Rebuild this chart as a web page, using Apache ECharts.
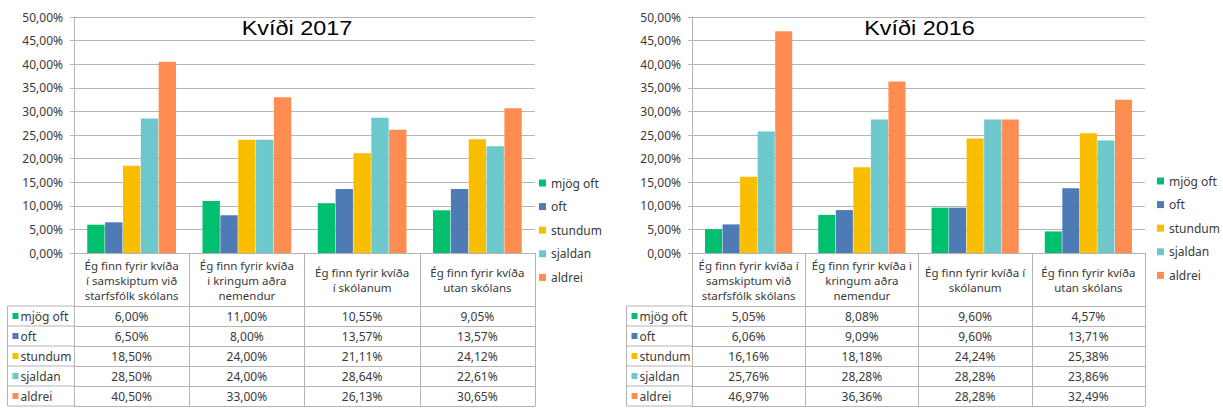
<!DOCTYPE html>
<html>
<head>
<meta charset="utf-8">
<script src="https://cdn.jsdelivr.net/npm/echarts@6/dist/echarts.min.js"></script>
<style>
html,body{margin:0;padding:0;background:#fff;}
#c{width:1223px;height:408px;}
</style>
</head>
<body>
<div id="c"></div>
<script>
// ---------- data ----------
const seriesNames = ['mjög oft', 'oft', 'stundum', 'sjaldan', 'aldrei'];
const seriesColors = ['#00C070', '#4E7AB5', '#F9BE00', '#6DC8CC', '#FF8C50'];

const categories2017 = [
  'Ég finn fyrir kvíða\ní samskiptum við\nstarfsfólk skólans',
  'Ég finn fyrir kvíða\ni kringum aðra\nnemendur',
  'Ég finn fyrir kvíða\ní skólanum',
  'Ég finn fyrir kvíða\nutan skólans'
];
const categories2016 = [
  'Ég finn fyrir kvíða í\nsamskiptum við\nstarfsfólk skólans',
  'Ég finn fyrir kvíða i\nkringum aðra\nnemendur',
  'Ég finn fyrir kvíða í\nskólanum',
  'Ég finn fyrir kvíða\nutan skólans'
];

const mjogOft2017 = [6.00, 11.00, 10.55, 9.05];
const oft2017     = [6.50, 8.00, 13.57, 13.57];
const stundum2017 = [18.50, 24.00, 21.11, 24.12];
const sjaldan2017 = [28.50, 24.00, 28.64, 22.61];
const aldrei2017  = [40.50, 33.00, 26.13, 30.65];

const mjogOft2016 = [5.05, 8.08, 9.60, 4.57];
const oft2016     = [6.06, 9.09, 9.60, 13.71];
const stundum2016 = [16.16, 18.18, 24.24, 25.38];
const sjaldan2016 = [25.76, 28.28, 28.28, 23.86];
const aldrei2016  = [46.97, 36.36, 28.28, 32.49];

const yMin = 0, yMax = 50, yStep = 5; // tick labels 0,00% ... 50,00%
const titles = ['Kvíði 2017', 'Kvíði 2016'];

// ---------- layout / style ----------
const FONT = '"Noto Sans", sans-serif';
const TXT = '#3a3a3a';
const LINE_C = '#B4B4B4';
const GRID_TOP = 17, GRID_H = 236, HEADER_H = 53, ROW_H = 20;

const rows2017 = [mjogOft2017, oft2017, stundum2017, sjaldan2017, aldrei2017];
const rows2016 = [mjogOft2016, oft2016, stundum2016, sjaldan2016, aldrei2016];

const panels = [
  {title: titles[0], cats: categories2017, rows: rows2017, left: 74, width: 461, labelLeft: 7.5, legendLeft: 539, legendTop: 176, titleX: 297},
  {title: titles[1], cats: categories2016, rows: rows2016, left: 692, width: 453, labelLeft: 626.5, legendLeft: 1157, legendTop: 174, titleX: 919.5}
];

function pct(v) { return v.toFixed(2).replace('.', ',') + '%'; }

const grid = [], xAxis = [], yAxis = [], series = [], legend = [], graphic = [];
const AX_PER = 7;

panels.forEach((p, k) => {
  grid.push({left: p.left, top: GRID_TOP, width: p.width, height: GRID_H, containLabel: false, outerBoundsMode: 'none'});

  yAxis.push({
    type: 'value', gridIndex: k, min: yMin, max: yMax, interval: yStep,
    axisLine: {show: true, lineStyle: {color: LINE_C}},
    axisTick: {show: true, length: 4, lineStyle: {color: LINE_C}},
    splitLine: {show: true, lineStyle: {color: LINE_C}},
    axisLabel: {margin: 11, fontFamily: FONT, fontSize: 12, color: TXT, formatter: v => pct(v)}
  });

  // header axis (category names)
  xAxis.push({
    type: 'category', gridIndex: k, data: p.cats, position: 'bottom',
    axisLine: {show: true, lineStyle: {color: LINE_C}},
    axisTick: {show: true, length: HEADER_H, lineStyle: {color: LINE_C}},
    axisLabel: {interval: 0, margin: 27, verticalAlign: 'middle', lineHeight: 15,
                fontFamily: FONT, fontSize: 11.5, color: TXT}
  });
  // table rows
  for (let i = 0; i < 5; i++) {
    const vals = p.rows[i];
    xAxis.push({
      type: 'category', gridIndex: k, data: p.cats, position: 'bottom',
      offset: HEADER_H + ROW_H * i,
      axisLine: {show: true, lineStyle: {color: LINE_C}},
      axisTick: {show: true, length: ROW_H, lineStyle: {color: LINE_C}},
      axisLabel: {interval: 0, margin: ROW_H / 2, verticalAlign: 'middle',
                  fontFamily: FONT, fontSize: 12, color: TXT,
                  formatter: (v, idx) => pct(vals[idx])}
    });
  }
  xAxis.push({
    type: 'category', gridIndex: k, data: p.cats, position: 'bottom',
    offset: HEADER_H + ROW_H * 5,
    axisLine: {show: true, lineStyle: {color: LINE_C}},
    axisTick: {show: false}, axisLabel: {show: false}
  });

  seriesNames.forEach((name, j) => {
    series.push({
      type: 'bar', name: name, xAxisIndex: k * AX_PER, yAxisIndex: k,
      data: p.rows[j], itemStyle: {color: seriesColors[j]},
      barGap: '3%', barCategoryGap: '23%', animation: false
    });
  });

  legend.push({
    orient: 'vertical', left: p.legendLeft, top: p.legendTop, padding: 0,
    itemWidth: 7, itemHeight: 7, itemGap: 9.6, icon: 'rect', selectedMode: false,
    data: seriesNames,
    textStyle: {fontFamily: FONT, fontSize: 12, color: TXT, lineHeight: 14}
  });

  // title
  graphic.push({
    type: 'text', x: p.titleX, y: 18, scaleX: 1.17, silent: true,
    style: {text: p.title, font: '20px "Liberation Sans", Arial, sans-serif', fill: '#000',
            align: 'center', textAlign: 'center', verticalAlign: 'top', textVerticalAlign: 'top'}
  });

  // table label column
  const base = GRID_TOP + GRID_H + HEADER_H;
  graphic.push({type: 'line', silent: true,
    shape: {x1: p.labelLeft, y1: base, x2: p.labelLeft, y2: base + ROW_H * 5},
    style: {stroke: LINE_C, lineWidth: 1}});
  for (let i = 0; i <= 5; i++) {
    graphic.push({type: 'line', silent: true,
      shape: {x1: p.labelLeft, y1: base + ROW_H * i, x2: p.left, y2: base + ROW_H * i},
      style: {stroke: LINE_C, lineWidth: 1}});
  }
  seriesNames.forEach((name, j) => {
    const cy = base + ROW_H * j + ROW_H / 2;
    graphic.push({type: 'rect', silent: true,
      shape: {x: p.labelLeft + 5, y: cy - 3, width: 6, height: 6},
      style: {fill: seriesColors[j]}});
    graphic.push({type: 'text', silent: true, x: p.labelLeft + 13, y: cy,
      style: {text: name, font: '12px "Noto Sans", sans-serif', fill: TXT,
              verticalAlign: 'middle', textVerticalAlign: 'middle', align: 'left', textAlign: 'left'}});
  });
});

const chart = echarts.init(document.getElementById('c'), null, {renderer: 'svg'});
chart.setOption({
  animation: false,
  backgroundColor: '#fff',
  grid, xAxis, yAxis, series, legend, graphic
});
</script>
</body>
</html>
